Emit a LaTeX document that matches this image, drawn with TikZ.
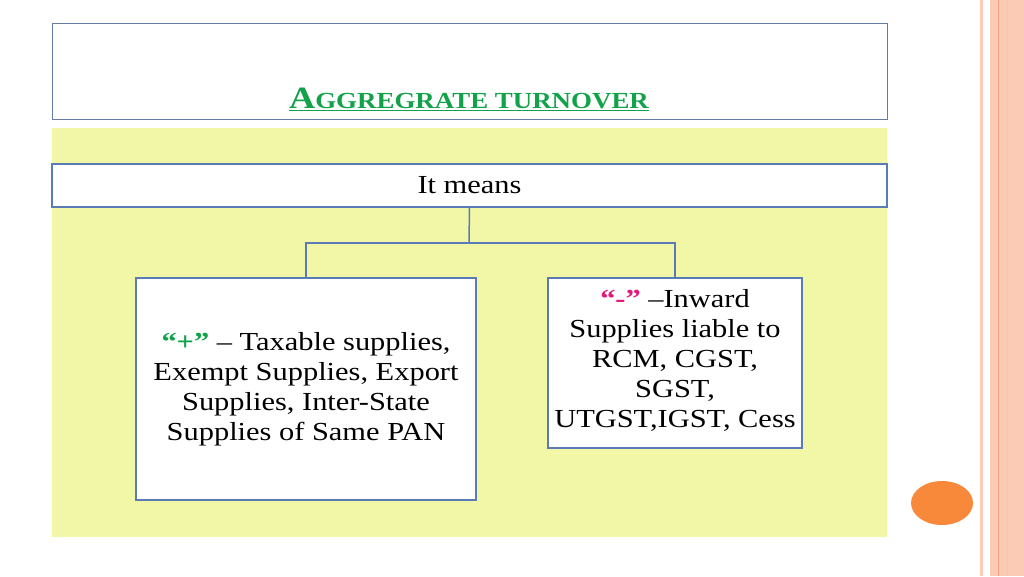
\documentclass[tikz,border=0pt]{standalone}
\usepackage{fontspec}
\setmainfont[FakeStretch=1.17]{Liberation Serif}
\definecolor{peach}{HTML}{FBCBB6}
\definecolor{peachline}{HTML}{F2A07E}
\definecolor{yel}{HTML}{F1F7A6}
\definecolor{bord}{HTML}{5B7BB8}
\definecolor{grn}{HTML}{12A24A}
\definecolor{pink}{HTML}{E4197A}
\definecolor{org}{HTML}{F8883A}
\tikzset{box/.style={draw=bord,line width=1.2pt,fill=white,inner sep=0pt},
 conn/.style={draw=bord,line width=1.5pt},
 txt/.style={font=\fontsize{26}{30}\selectfont,align=center}}
\begin{document}
\begin{tikzpicture}[x=1pt,y=-1pt]
\useasboundingbox (0,0) rectangle (1024,576);
\fill[white] (0,0) rectangle (1024,576);
\fill[peach] (980,0) rectangle (983,576);
\fill[peach] (990,0) rectangle (1024,576);
\draw[peachline,line width=0.6pt] (998,0) -- (998,576);
\draw[peachline!60,line width=0.6pt] (1007,0) -- (1007,576);
\fill[org] (942,503) ellipse [x radius=31,y radius=22];
\draw[bord!70!gray,line width=0.8pt] (52,23) rectangle (887,119);
\node[font=\bfseries,text=grn] (title) at (469,99) {\underline{\fontsize{31}{32}\selectfont A\fontsize{23}{24}\selectfont GGREGRATE TURNOVER}};
\fill[yel] (52,128) rectangle (887,537);
\node[box,minimum width=835,minimum height=43,txt] (means) at (469.5,185.5) {It means};
\node[box,minimum width=340,minimum height=222] (left) at (306,389) {};
\node[txt] at (left) {{\color{grn}\bfseries “+”} – Taxable supplies,\\Exempt Supplies, Export\\Supplies, Inter-State\\Supplies of Same PAN};
\node[box,minimum width=254,minimum height=170] (right) at (675,363) {};
\node[txt,anchor=north] at (675,286) {{\color{pink}\bfseries “-”} –Inward\\Supplies liable to\\RCM, CGST,\\SGST,\\UTGST,IGST, Cess};
\coordinate (mid) at (469,243);
\draw[conn] (means.south) -- (mid);
\draw[conn] (left.north) |- (mid) -| (right.north);
\end{tikzpicture}
\end{document}
